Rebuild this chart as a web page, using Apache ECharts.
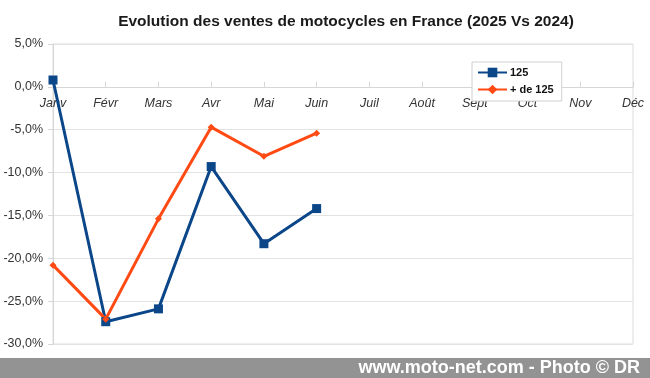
<!DOCTYPE html>
<html>
<head>
<meta charset="utf-8">
<script src="https://cdn.jsdelivr.net/npm/echarts@6/dist/echarts.min.js"></script>
<style>html,body{margin:0;padding:0;background:#fff}#c{width:650px;height:378px}</style>
</head>
<body>
<div id="c"></div>
<script>
const categories = ['Janv','Févr','Mars','Avr','Mai','Juin','Juil','Août','Sept','Oct','Nov','Déc'];
const series125 = [0.8, -27.4, -25.9, -9.3, -18.3, -14.2];
const seriesPlus125 = [-20.8, -27.1, -15.4, -4.7, -8.1, -5.4];
const titleText = 'Evolution des ventes de motocycles en France (2025 Vs 2024)';
const watermark = 'www.moto-net.com - Photo © DR';

const yMin = -30, yMax = 5;
const gridTop = 44, gridBottom = 34, H = 378;
const plotH = H - gridTop - gridBottom;
const zeroOffset = -(yMax / (yMax - yMin)) * plotH;

const chart = echarts.init(document.getElementById('c'), null, {renderer: 'canvas'});
chart.setOption({
  animation: false,
  backgroundColor: '#fff',
  title: {
    text: titleText, left: 341, top: 9, textAlign: 'center',
    textStyle: {fontFamily: 'Liberation Sans, Arial', fontSize: 15.5, fontWeight: 'bold', color: '#1a1a1a'}
  },
  legend: {
    orient: 'vertical', left: 472, top: 62,
    padding: [5, 8, 6, 5], itemGap: 6, itemWidth: 29, itemHeight: 12,
    borderColor: '#d0d0d0', borderWidth: 1, backgroundColor: '#fff',
    textStyle: {fontFamily: 'Liberation Sans, Arial', fontSize: 11, fontWeight: 'bold', color: '#111', padding: [0,0,0,-2]},
    data: ['125', '+ de 125']
  },
  grid: {left: 53, right: 17, top: gridTop, bottom: gridBottom, show: true, borderColor: '#dcdcdc', borderWidth: 1},
  xAxis: {
    type: 'category', data: categories, boundaryGap: false,
    position: 'top', offset: zeroOffset,
    axisLine: {onZero: false, lineStyle: {color: '#d6d6d6', width: 1}},
    axisTick: {show: true, inside: false, length: 5, lineStyle: {color: '#d6d6d6'}},
    axisLabel: {inside: true, fontFamily: 'Liberation Sans, Arial', fontSize: 12.5, fontStyle: 'italic', color: '#333', margin: 10, interval: 0},
    splitLine: {show: false}
  },
  yAxis: {
    type: 'value', min: yMin, max: yMax, interval: 5,
    axisLine: {show: true, lineStyle: {color: '#d6d6d6'}},
    axisTick: {show: true, length: 5, lineStyle: {color: '#d6d6d6'}},
    axisLabel: {fontFamily: 'Liberation Sans, Arial', fontSize: 12.5, color: '#333', margin: 10,
      formatter: v => v.toFixed(1).replace('.', ',') + '%'},
    splitLine: {lineStyle: {color: '#e3e3e3', width: 1}}
  },
  series: [
    {name: '125', type: 'line', data: series125, symbol: 'rect', symbolSize: 9,
     lineStyle: {color: '#0b4689', width: 3}, itemStyle: {color: '#0b4689'}},
    {name: '+ de 125', type: 'line', data: seriesPlus125, symbol: 'diamond', symbolSize: 7,
     lineStyle: {color: '#ff4a14', width: 3}, itemStyle: {color: '#ff4a14'}}
  ],
  graphic: [
    {type: 'rect', left: 0, top: 358, shape: {width: 650, height: 20}, style: {fill: '#939393'}, z: 100},
    {type: 'text', right: 10, top: 359, z: 101,
     style: {text: watermark, fill: '#fff', font: 'bold 18px "Liberation Sans", Arial'}}
  ]
});
</script>
</body>
</html>
